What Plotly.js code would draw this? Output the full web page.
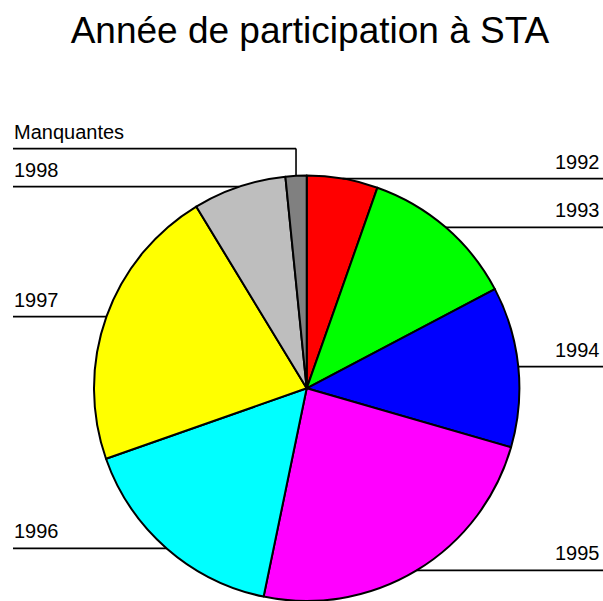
<!DOCTYPE html>
<html>
<head>
<meta charset="utf-8">
<script src="https://cdn.plot.ly/plotly-3.0.1.min.js"></script>
<style>html,body{margin:0;padding:0;background:#fff;}#chart{width:603px;height:601px;}</style>
</head>
<body>
<div id="chart"></div>
<script>
// Data
var categories = ["1992", "1993", "1994", "1995", "1996", "1997", "1998", "Manquantes"];
var values = [5.4, 11.9, 12.2, 23.8, 16.4, 21.7, 7.1, 1.6];
var colors = ["#FF0000", "#00FF00", "#0000FF", "#FF00FF", "#00FFFF", "#FFFF00", "#BEBEBE", "#808080"];
var titleText = "Année de participation à STA";

// Layout geometry (pixels)
var W = 603, H = 601;
var cx = 306.7, R = 212.7;
var cy = H - R; // pie sits on the bottom of the figure
var leftX = 13, rightX = 603, labelGap = 38;

var total = values.reduce(function(a, b){ return a + b; }, 0);
var cum = 0;
var items = values.map(function(v, i){
  var mid = (cum + v / 2) / total * 2 * Math.PI; // clockwise from 12 o'clock
  cum += v;
  var px = cx + R * Math.sin(mid);
  var py = cy - R * Math.cos(mid);
  return {name: categories[i], px: px, py: py, ly: py, right: Math.sin(mid) >= 0};
});

// avoid label collisions on the left side (walk upward)
var left = items.filter(function(d){ return !d.right; }).sort(function(a, b){ return b.py - a.py; });
for (var k = 1; k < left.length; k++) {
  if (left[k - 1].ly - left[k].ly < labelGap) left[k].ly = left[k - 1].ly - labelGap;
}

function fx(x){ return x / W; }
function fy(y){ return 1 - y / H; }

var shapes = [], annotations = [];
items.forEach(function(d){
  var lineStyle = {color: "#000000", width: 1.6};
  if (d.ly !== d.py) {
    shapes.push({type: "line", xref: "paper", yref: "paper", x0: fx(d.px), y0: fy(d.py), x1: fx(d.px), y1: fy(d.ly), line: lineStyle});
  }
  shapes.push({type: "line", xref: "paper", yref: "paper",
    x0: fx(d.px), y0: fy(d.ly), x1: fx(d.right ? rightX : leftX), y1: fy(d.ly), line: lineStyle});
  annotations.push({
    xref: "paper", yref: "paper",
    x: fx(d.right ? 601 : leftX), y: fy(d.ly - 5),
    xanchor: d.right ? "right" : "left", yanchor: "bottom",
    text: d.name, showarrow: false, borderpad: 0,
    font: {family: "Liberation Sans, Arial, sans-serif", size: 20, color: "#000000"}
  });
});

var trace = {
  type: "pie",
  labels: categories,
  values: values,
  sort: false,
  direction: "clockwise",
  rotation: 0,
  textinfo: "none",
  hoverinfo: "label+value",
  showlegend: false,
  marker: {colors: colors, line: {color: "#000000", width: 2}},
  domain: {x: [fx(cx - R), fx(cx + R)], y: [0, (2 * R) / H]}
};

var layout = {
  width: W, height: H,
  margin: {l: 0, r: 0, t: 0, b: 0},
  paper_bgcolor: "#ffffff",
  plot_bgcolor: "#ffffff",
  showlegend: false,
  title: {
    text: titleText,
    x: 0.514, xanchor: "center",
    y: 1 - 30 / H, yanchor: "middle",
    font: {family: "Liberation Sans, Arial, sans-serif", size: 37, color: "#000000"}
  },
  shapes: shapes,
  annotations: annotations
};

Plotly.newPlot("chart", [trace], layout, {displayModeBar: false, staticPlot: true});
</script>
</body>
</html>
